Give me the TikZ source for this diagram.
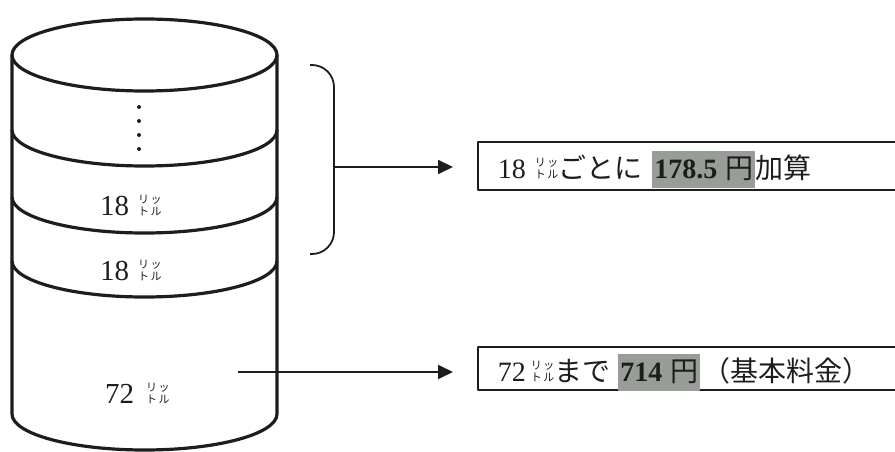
\documentclass[tikz,border=0pt]{standalone}
\usepackage{fontspec}
\setmainfont{Liberation Serif}
\newfontfamily\jp{Noto Sans CJK JP}
\usetikzlibrary{arrows.meta}
\definecolor{shade}{RGB}{152,157,152}
\definecolor{ink}{RGB}{28,30,28}
% two-row unit mark (litre)
\newcommand{\litre}{{\jp\fontsize{11}{12}\selectfont
  \vbox{\baselineskip=12pt\hbox{リ\kern1.5pt ッ}\hbox{ト\kern1.5pt ル}}}}
\newcommand{\hl}[1]{{\fboxsep=2pt\colorbox{shade}{\rule[-8pt]{0pt}{33pt}#1}}}

\begin{document}
\begin{tikzpicture}[x=1pt, y=-1pt, line join=round,
  cyl/.style={draw=ink, line width=3.2pt},
  lbl/.style={inner sep=0pt, anchor=base west, text=ink, font=\fontsize{29}{29}\selectfont},
  box/.style={draw=ink, line width=1.8pt, anchor=west, inner xsep=20pt, inner ysep=0pt,
    text width=420pt, align=left, text=ink, font=\fontsize{28}{30}\selectfont},
  arr/.style={draw=ink, line width=1.8pt, -{Triangle[length=15pt,width=14pt]}}]
\useasboundingbox (0,0) rectangle (895,452);
\clip (0,0) rectangle (895,452);
% cylinder
\draw[cyl] (144.5,55) ellipse[x radius=132.5pt, y radius=36pt];
\draw[cyl] (12,55) -- (12,414) arc[start angle=180, end angle=360, x radius=132.5pt, y radius=36pt] -- (277,55);
\foreach \y in {130,197,261}
  \draw[cyl] (12,\y) arc[start angle=180, end angle=360, x radius=132.5pt, y radius=36pt];
\foreach \y in {107,121,135,149}
  \fill[ink] (139,\y) circle (2pt);
\node[lbl] (l18a) at (100,215) {18\hspace{9pt}\litre};
\node[lbl] (l18b) at (100,280) {18\hspace{9pt}\litre};
\node[lbl] (l72) at (105,403) {72\hspace{12pt}\litre};
% bracket
\draw[ink, line width=1.8pt, rounded corners=22pt] (310,65) -- (334,65) -- (334,254) -- (310,254);
\coordinate (brace) at (334,167);
\coordinate (base) at (238,372);
% boxes
\node[box, minimum height=48pt, text height=30pt, text depth=6pt] (box18) at (477,166)
  {18\hspace{9pt}\litre{\jp ごとに}\hspace{10pt}\hl{\textbf{178.5}\hspace{8pt}{\jp 円}}{\jp 加算}};
\node[box, minimum height=43pt, text height=30pt, text depth=5pt] (box72) at (477,368.5)
  {72\hspace{5pt}\litre{\jp まで}\hspace{8pt}\hl{\textbf{714}\hspace{8pt}{\jp 円}}\hspace{2pt}{\jp （基本料金）}};
% arrows
\draw[arr, shorten >=24pt] (brace) -- (brace -| box18.west);
\draw[arr, shorten >=24pt] (base) -- (base -| box72.west);
\end{tikzpicture}
\end{document}
